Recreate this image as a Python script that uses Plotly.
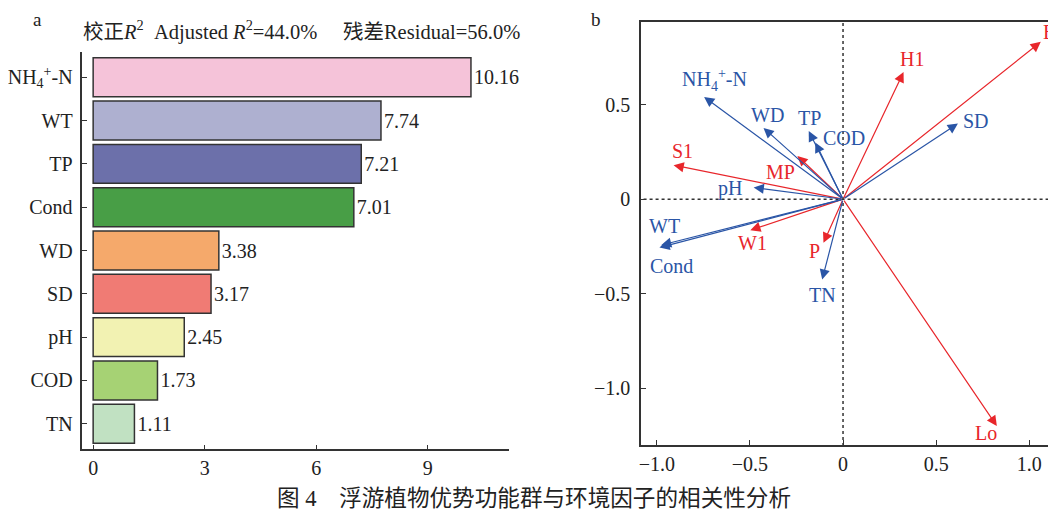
import plotly.graph_objects as go

# ---- Panel a data ----
factors = ["NH<sub>4</sub><sup>+</sup>-N", "WT", "TP", "Cond", "WD", "SD", "pH", "COD", "TN"]
importance = [10.16, 7.74, 7.21, 7.01, 3.38, 3.17, 2.45, 1.73, 1.11]
bar_colors = ["#f5c3d9", "#aeb0d0", "#6c70aa", "#489e46", "#f5a96b", "#f07b74",
              "#f2f2b2", "#a6d274", "#c1e1c2"]
a_xticks = [0, 3, 6, 9]

# ---- Panel b data (RDA arrows) ----
env_names = ["NH<sub>4</sub><sup>+</sup>-N", "WD", "TP", "COD", "SD", "pH", "WT", "Cond", "TN"]
env_x = [-0.746, -0.427, -0.184, -0.149, 0.617, -0.48, -0.977, -0.986, -0.112]
env_y = [0.541, 0.377, 0.36, 0.30, 0.40, 0.062, -0.243, -0.256, -0.425]

grp_names = ["E", "H1", "MP", "S1", "W1", "P", "Lo"]
grp_x = [1.062, 0.325, -0.245, -0.91, -0.498, -0.105, 0.826]
grp_y = [0.832, 0.672, 0.229, 0.18, -0.164, -0.231, -1.20]

b_ticks = [-1.0, -0.5, 0, 0.5, 1.0]
b_ticktext = ["\u22121.0", "\u22120.5", "0", "0.5", "1.0"]
b_yticks = [-1.0, -0.5, 0, 0.5]
b_yticktext = ["\u22121.0", "\u22120.5", "0", "0.5"]

# label offsets in pixels (styling only)
env_off = {"NH<sub>4</sub><sup>+</sup>-N": (10, -17), "WD": (4, -13), "TP": (1, -13),
           "COD": (29, -4), "SD": (18, -3), "pH": (-24, 1), "WT": (3, -19),
           "Cond": (12, 18), "TN": (0, 15)}
grp_off = {"E": (8, -10), "H1": (8, -13), "MP": (-17, 16), "S1": (9, -14),
           "W1": (2, 13), "P": (-9, 8), "Lo": (-11, 7)}

RED = "#e8262b"
BLUE = "#2a55a6"
FONT = "Liberation Serif, Noto Sans CJK SC"
DARK = "#333333"
FS = 20

# page body has an 8px margin; figure is sized so page pixels map directly
OFF = 8
W, H = 1056 - OFF, 512 - OFF
def fx(p):
    return (p - OFF) / W
def fy(p):
    return 1 - (p - OFF) / H

fig = go.Figure()

fig.add_trace(go.Bar(
    x=importance, y=factors, orientation="h",
    marker=dict(color=bar_colors, line=dict(color=DARK, width=1.5)),
    width=0.9,
    text=[f"{v:.2f}" for v in importance], textposition="outside",
    textfont=dict(size=FS, color="#222", family=FONT),
    cliponaxis=False, xaxis="x", yaxis="y", showlegend=False,
))

# zero lines for panel b
fig.add_trace(go.Scatter(x=[-1.2, 1.3], y=[0, 0], mode="lines",
                         line=dict(color=DARK, width=1.5, dash="dot"),
                         xaxis="x2", yaxis="y2", showlegend=False, hoverinfo="skip"))
fig.add_trace(go.Scatter(x=[0, 0], y=[-1.4, 1.0], mode="lines",
                         line=dict(color=DARK, width=1.5, dash="dot"),
                         xaxis="x2", yaxis="y2", showlegend=False, hoverinfo="skip"))

annotations = []
def add_arrows(names, xs, ys, color, offs):
    for n, x, y in zip(names, xs, ys):
        annotations.append(dict(
            x=x, y=y, ax=0, ay=0, xref="x2", yref="y2", axref="x2", ayref="y2",
            text="", showarrow=True, arrowhead=2, arrowsize=1.7, arrowwidth=1.2,
            arrowcolor=color))
        dx, dy = offs[n]
        annotations.append(dict(
            x=x, y=y, xref="x2", yref="y2", text=n, showarrow=False,
            xanchor="center", yanchor="middle",
            xshift=dx, yshift=-dy, font=dict(size=FS, color=color, family=FONT)))

add_arrows(grp_names, grp_x, grp_y, RED, grp_off)
add_arrows(env_names, env_x, env_y, BLUE, env_off)

NB = "\u00a0"
annotations += [
    dict(x=fx(29), y=fy(19), xref="paper", yref="paper", text="a",
         xanchor="center", yanchor="middle",
         showarrow=False, font=dict(size=19, color="#222", family=FONT)),
    dict(x=fx(593), y=fy(19), xref="paper", yref="paper", text="b",
         xanchor="center", yanchor="middle",
         showarrow=False, font=dict(size=19, color="#222", family=FONT)),
    dict(x=fx(295.5), y=fy(31), xref="paper", yref="paper",
         xanchor="center", yanchor="middle",
         text="校正<i>R</i><sup>2</sup>" + NB * 2 + "Adjusted <i>R</i><sup>2</sup>=44.0%"
              + NB * 5 + "残差Residual=56.0%",
         showarrow=False, font=dict(size=20.5, color="#222", family=FONT)),
    dict(x=fx(530), y=fy(498), xref="paper", yref="paper",
         xanchor="center", yanchor="middle",
         text="图 4" + NB * 4 + "浮游植物优势功能群与环境因子的相关性分析",
         showarrow=False, font=dict(size=22.6, color="#222", family=FONT)),
]

axis_common = dict(showline=True, linecolor=DARK, linewidth=1.5, ticks="inside",
                   ticklen=5, tickcolor=DARK, showgrid=False, zeroline=False,
                   tickfont=dict(size=FS, color="#222", family=FONT))

fig.update_layout(
    width=W, height=H, margin=dict(l=0, r=0, t=0, b=0),
    paper_bgcolor="white", plot_bgcolor="white",
    font=dict(family=FONT, color="#222"),
    xaxis=dict(domain=[fx(74), fx(505)], range=[-0.29, 11.19],
               tickvals=a_xticks, anchor="y", **axis_common),
    yaxis=dict(domain=[fy(449.3), fy(51.7)], range=[8.59, -0.59],
               anchor="x", ticklabelstandoff=4, **axis_common),
    xaxis2=dict(domain=[fx(638), fx(1055)], range=[-1.085, 1.133],
                tickvals=b_ticks, ticktext=b_ticktext, anchor="y2", mirror=True,
                **axis_common),
    yaxis2=dict(domain=[fy(445), fy(22)], range=[-1.30, 0.937],
                tickvals=b_yticks, ticktext=b_yticktext, anchor="x2", mirror=True,
                ticklabelstandoff=5, **axis_common),
    annotations=annotations,
)

fig.write_html("out.html")
